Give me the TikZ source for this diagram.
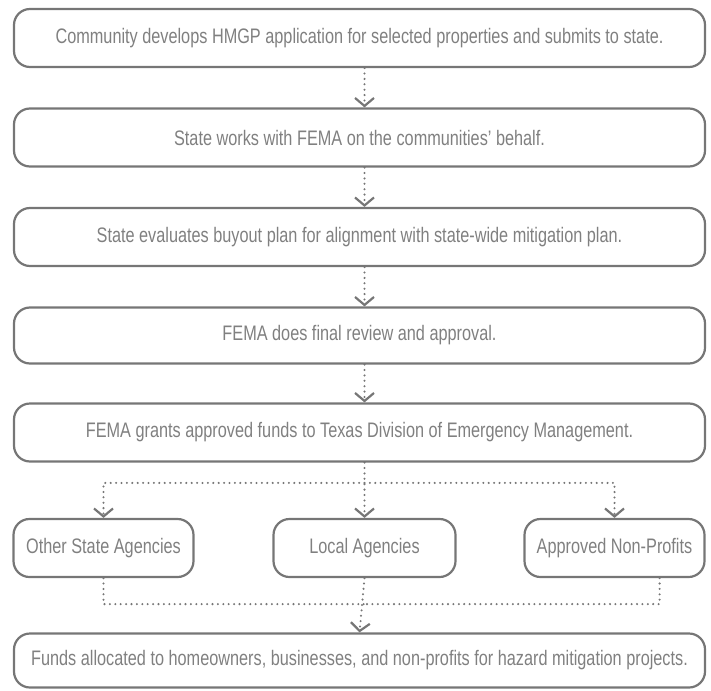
\documentclass[tikz,border=0pt]{standalone}
\usepackage{fontspec}
\setmainfont{Liberation Sans}[FakeStretch=0.775]
\usetikzlibrary{arrows.meta,calc}
\definecolor{linegray}{RGB}{118,118,118}
\definecolor{textgray}{RGB}{128,128,128}
\begin{document}
\begin{tikzpicture}[x=1pt,y=-1pt,
  box/.style={draw=linegray, line width=2.2pt, rounded corners=16pt, text=textgray,
    font=\fontsize{21}{25}\selectfont, inner sep=0pt, minimum height=58pt},
  wide/.style={box, minimum width=691pt},
  agency/.style={box, minimum width=180pt},
  dots/.style={draw=linegray, line width=2.3pt, line cap=round, dash pattern=on 0pt off 5.4pt},
  flow/.style={dots, -{Straight Barb[length=8pt,width=19pt,line width=2.2pt,line cap=butt]}}
]
\useasboundingbox (0,0) rectangle (711,690);
\node[wide] (b1) at (359.5,38) {Community develops HMGP application for selected properties and submits to state.};
\node[wide] (b2) at (359.5,137.5) {State works with FEMA on the communities' behalf.};
\node[wide] (b3) at (359.5,237) {State evaluates buyout plan for alignment with state-wide mitigation plan.};
\node[wide, minimum height=56pt] (b4) at (359.5,335.5) {FEMA does final review and approval.};
\node[wide] (b5) at (359.5,432.5) {FEMA grants approved funds to Texas Division of Emergency Management.};
\node[agency] (a1) at (103.5,548) {Other State Agencies};
\node[agency, minimum width=182pt] (a2) at (364.5,548) {Local Agencies};
\node[agency] (a3) at (614.5,548) {Approved Non-Profits};
\node[wide, minimum height=54pt] (b6) at (359.5,660.5) {Funds allocated to homeowners, businesses, and non-profits for hazard mitigation projects.};
\coordinate (split) at ($(a2.north)+(0,-35)$);
\coordinate (join) at ($(a2.south)+(0,26)$);
\draw[flow] (b1.south -| a2.north) -- (b2.north -| a2.north);
\draw[flow] (b2.south -| a2.north) -- (b3.north -| a2.north);
\draw[flow] (b3.south -| a2.north) -- (b4.north -| a2.north);
\draw[flow] (b4.south -| a2.north) -- (b5.north -| a2.north);
\draw[flow] (b5.south -| a2.north) -- (a2.north);
\draw[flow] (split) -| (a1.north);
\draw[flow] (split) -| (a3.north);
\draw[dots] (a1.south) |- (join);
\draw[dots] ($(a3.south east)+(-46,0)$) |- (join);
\draw[flow] (a2.south) -- (b6.north);
\end{tikzpicture}
\end{document}
